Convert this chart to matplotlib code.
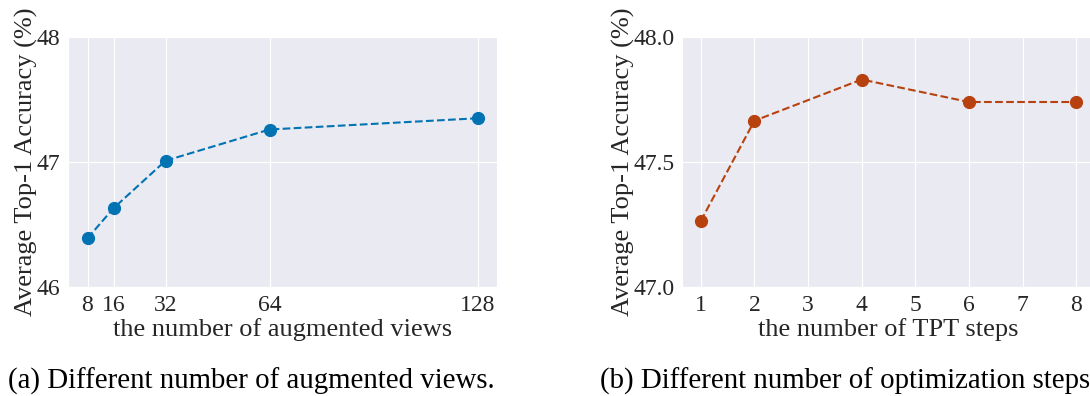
import matplotlib
matplotlib.use('Agg')
import matplotlib.pyplot as plt
import seaborn as sns

# augmented views ablation
views = [8, 16, 32, 64, 128]
views_acc = [46.39, 46.63, 47.01, 47.26, 47.35]
views_ticks = [8, 16, 32, 64, 128]

# TPT steps ablation
steps = [1, 2, 4, 6, 8]
steps_acc = [47.264, 47.665, 47.83, 47.74, 47.74]
steps_ticks = [1, 2, 3, 4, 5, 6, 7, 8]

sns.set_style('darkgrid')
plt.rcParams['font.family'] = ['Liberation Serif', 'DejaVu Serif']
plt.rcParams['mathtext.fontset'] = 'stix'

W, H = 1090, 396
fig = plt.figure(figsize=(W / 100, H / 100), dpi=100)

def px_axes(x0, y0, x1, y1):
    return fig.add_axes([x0 / W, 1 - y1 / H, (x1 - x0) / W, (y1 - y0) / H])

fs = 17
lfs = 19

# (a)
ax1 = px_axes(68, 37, 497, 287)
ax1.plot(views, views_acc, '--o', color='#0173b2', lw=1.5, ms=8.5)
ax1.set_xticks(views_ticks)
ax1.set_ylim(46, 48)
ax1.set_yticks([46, 47, 48])
ax1.tick_params(labelsize=fs, pad=2)
ax1.set_xlabel('the number of augmented views', fontsize=lfs, labelpad=2)
ax1.set_ylabel('Average Top-1 Accuracy (%)', fontsize=lfs, labelpad=-1)

# (b)
ax2 = px_axes(682, 37, 1095, 287)
ax2.plot(steps, steps_acc, '--o', color='#b8420f', lw=1.5, ms=8.5)
ax2.set_xticks(steps_ticks)
ax2.set_ylim(47.0, 48.0)
ax2.set_yticks([47.0, 47.5, 48.0])
ax2.set_yticklabels(['47.0', '47.5', '48.0'])
ax2.tick_params(labelsize=fs, pad=2)
ax2.set_xlabel('the number of TPT steps', fontsize=lfs, labelpad=2)
ax2.set_ylabel('Average Top-1 Accuracy (%)', fontsize=lfs, labelpad=-1)

fig.text(8 / W, 1 - 381 / H, '(a) Different number of augmented views.',
         fontsize=20.8, ha='left', va='center', color='black')
fig.text(600 / W, 1 - 381 / H, '(b) Different number of optimization steps.',
         fontsize=20.8, ha='left', va='center', color='black')

fig.savefig('out.png', dpi=100)
